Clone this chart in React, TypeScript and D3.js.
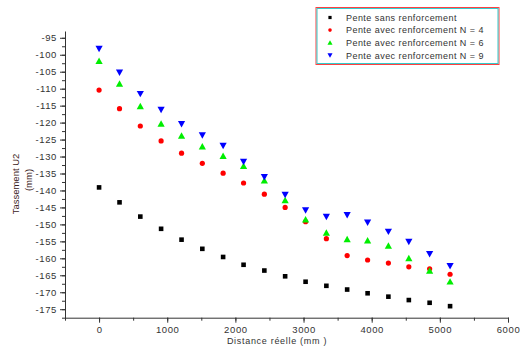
import React, { useEffect, useRef } from "react";
import * as d3 from "d3";

// distance (mm) for every measuring point
const distances = [0, 300, 605, 910, 1210, 1515, 1820, 2120, 2425, 2730, 3030, 3335, 3640, 3940, 4245, 4545, 4850, 5150];

const sansRenfort = [-139.1, -143.5, -147.7, -151.3, -154.5, -157.2, -159.6, -161.9, -163.6, -165.3, -166.9, -168.1, -169.2, -170.3, -171.3, -172.3, -173.1, -174.1];
const renfortN4 = [-110.4, -115.9, -121.0, -125.4, -129.0, -132.0, -134.9, -137.8, -141.1, -145.0, -149.2, -154.2, -159.2, -160.5, -161.4, -162.5, -163.1, -164.7];
const renfortN6 = [-101.9, -108.6, -115.2, -120.4, -123.9, -127.1, -129.9, -132.8, -137.1, -142.9, -148.6, -152.5, -154.4, -154.8, -156.3, -160.0, -163.7, -166.9];
const renfortN9 = [-98.2, -105.2, -111.5, -116.2, -120.4, -123.7, -126.8, -131.5, -136.0, -141.2, -145.8, -147.7, -147.2, -149.4, -152.1, -155.1, -158.7, -162.2];

const seriesNames = [
  "Pente sans renforcement",
  "Pente avec renforcement N = 4",
  "Pente avec renforcement N = 6",
  "Pente avec renforcement N = 9",
];

const xTicks = [0, 1000, 2000, 3000, 4000, 5000, 6000];
const yTicks = [-175, -170, -165, -160, -155, -150, -145, -140, -135, -130, -125, -120, -115, -110, -105, -100, -95];

const W = 520;
const H = 348;
const font = "'Liberation Sans', Arial, sans-serif";

const App: React.FC = () => {
  const svgRef = useRef<SVGSVGElement | null>(null);

  useEffect(() => {
    if (!svgRef.current) return;
    const svg = d3.select(svgRef.current);
    svg.selectAll("*").remove();

    const x = d3.scaleLinear().domain([-500, 6000]).range([65, 508]);
    const y = d3.scaleLinear().domain([-177.5, -93]).range([317.7, 31]);

    const series = [
      { name: seriesNames[0], values: sansRenfort, color: "#000000", shape: "square" },
      { name: seriesNames[1], values: renfortN4, color: "#ff0000", shape: "circle" },
      { name: seriesNames[2], values: renfortN6, color: "#00ee00", shape: "up" },
      { name: seriesNames[3], values: renfortN9, color: "#0000ff", shape: "down" },
    ];

    const marker = (g: any, shape: string, color: string, cx: number, cy: number, k = 1) => {
      if (shape === "square") {
        g.append("rect")
          .attr("x", cx - 2.3 * k)
          .attr("y", cy - 2.3 * k)
          .attr("width", 4.6 * k)
          .attr("height", 4.6 * k)
          .attr("fill", color);
      } else if (shape === "circle") {
        g.append("circle").attr("cx", cx).attr("cy", cy).attr("r", 2.6 * k).attr("fill", color);
      } else {
        const s = 3.6 * k;
        const pts =
          shape === "up"
            ? [[cx, cy - s], [cx + s, cy + s * 0.8], [cx - s, cy + s * 0.8]]
            : [[cx, cy + s], [cx + s, cy - s * 0.8], [cx - s, cy - s * 0.8]];
        g.append("polygon").attr("points", pts.map((p) => p.join(",")).join(" ")).attr("fill", color);
      }
    };

    // X axis (minor ticks then major ticks)
    svg
      .append("g")
      .attr("transform", `translate(0,${y.range()[0]})`)
      .call(d3.axisBottom(x).tickValues(d3.range(-500, 6001, 500)).tickSize(3).tickFormat(() => ""))
      .call((g) => g.select(".domain").remove())
      .call((g) => g.selectAll(".tick line").attr("stroke", "#333"));
    svg
      .append("g")
      .attr("transform", `translate(0,${y.range()[0]})`)
      .call(
        d3
          .axisBottom(x)
          .tickValues(xTicks)
          .tickSize(5)
          .tickPadding(4)
          .tickSizeOuter(0)
          .tickFormat(d3.format("d")),
      )
      .call((g) => g.select(".domain").attr("stroke", "#333"))
      .call((g) => g.selectAll(".tick line").attr("stroke", "#333"))
      .call((g) =>
        g
          .selectAll(".tick text")
          .attr("fill", "#333")
          .attr("font-family", font)
          .attr("font-size", "9.5px")
          .attr("letter-spacing", "0.6px"),
      );

    // Y axis
    svg
      .append("g")
      .attr("transform", `translate(${x.range()[0]},0)`)
      .call(d3.axisLeft(y).tickValues(d3.range(-177.5, -92.9, 2.5)).tickSize(3).tickFormat(() => ""))
      .call((g) => g.select(".domain").remove())
      .call((g) => g.selectAll(".tick line").attr("stroke", "#333"));
    svg
      .append("g")
      .attr("transform", `translate(${x.range()[0]},0)`)
      .call(
        d3
          .axisLeft(y)
          .tickValues(yTicks)
          .tickSize(5)
          .tickPadding(3)
          .tickSizeOuter(0)
          .tickFormat((d: any) => String(d)),
      )
      .call((g) => g.select(".domain").attr("stroke", "#333"))
      .call((g) => g.selectAll(".tick line").attr("stroke", "#333"))
      .call((g) =>
        g
          .selectAll(".tick text")
          .attr("fill", "#333")
          .attr("font-family", font)
          .attr("font-size", "9.5px")
          .attr("letter-spacing", "0.6px"),
      );

    // axis titles
    svg
      .append("text")
      .attr("x", 277)
      .attr("y", 344)
      .attr("text-anchor", "middle")
      .attr("font-family", font)
      .attr("font-size", "9px")
      .attr("letter-spacing", "0.7px")
      .attr("fill", "#333")
      .text("Distance réelle (mm )");

    const yTitle = svg.append("g").attr("transform", `translate(19,184) rotate(-90)`);
    yTitle
      .append("text")
      .attr("text-anchor", "middle")
      .attr("font-family", font)
      .attr("font-size", "9.5px")
      .attr("fill", "#3a2222")
      .text("Tassement U2");
    yTitle
      .append("text")
      .attr("y", 13)
      .attr("x", 4)
      .attr("text-anchor", "middle")
      .attr("font-family", font)
      .attr("font-size", "9.5px")
      .attr("fill", "#3a2222")
      .text("(mm)");

    // points
    const pts = svg.append("g");
    series.forEach((s) => {
      s.values.forEach((v, i) => marker(pts, s.shape, s.color, x(distances[i]), y(v)));
    });

    // legend
    const lg = svg.append("g");
    lg.append("rect")
      .attr("x", 316)
      .attr("y", 7.5)
      .attr("width", 183)
      .attr("height", 57)
      .attr("fill", "white")
      .attr("stroke", "#ff4040")
      .attr("stroke-width", 1);
    lg.append("rect")
      .attr("x", 317)
      .attr("y", 8.5)
      .attr("width", 181)
      .attr("height", 55)
      .attr("fill", "none")
      .attr("stroke", "#33cccc")
      .attr("stroke-width", 1);
    series.forEach((s, i) => {
      const cy = 17.5 + i * 12.6;
      const item = lg.append("g");
      marker(item, s.shape, s.color, 330, cy, 0.7);
      item
        .append("text")
        .attr("x", 346)
        .attr("y", cy + 3.3)
        .attr("font-family", font)
        .attr("font-size", "9px")
        .attr("letter-spacing", "0.45px")
        .attr("fill", "#333")
        .text(s.name);
    });
  }, []);

  return (
    <svg
      ref={svgRef}
      width={W}
      height={H}
      style={{ position: "absolute", left: 0, top: 0, background: "white" }}
    />
  );
};

export default App;
